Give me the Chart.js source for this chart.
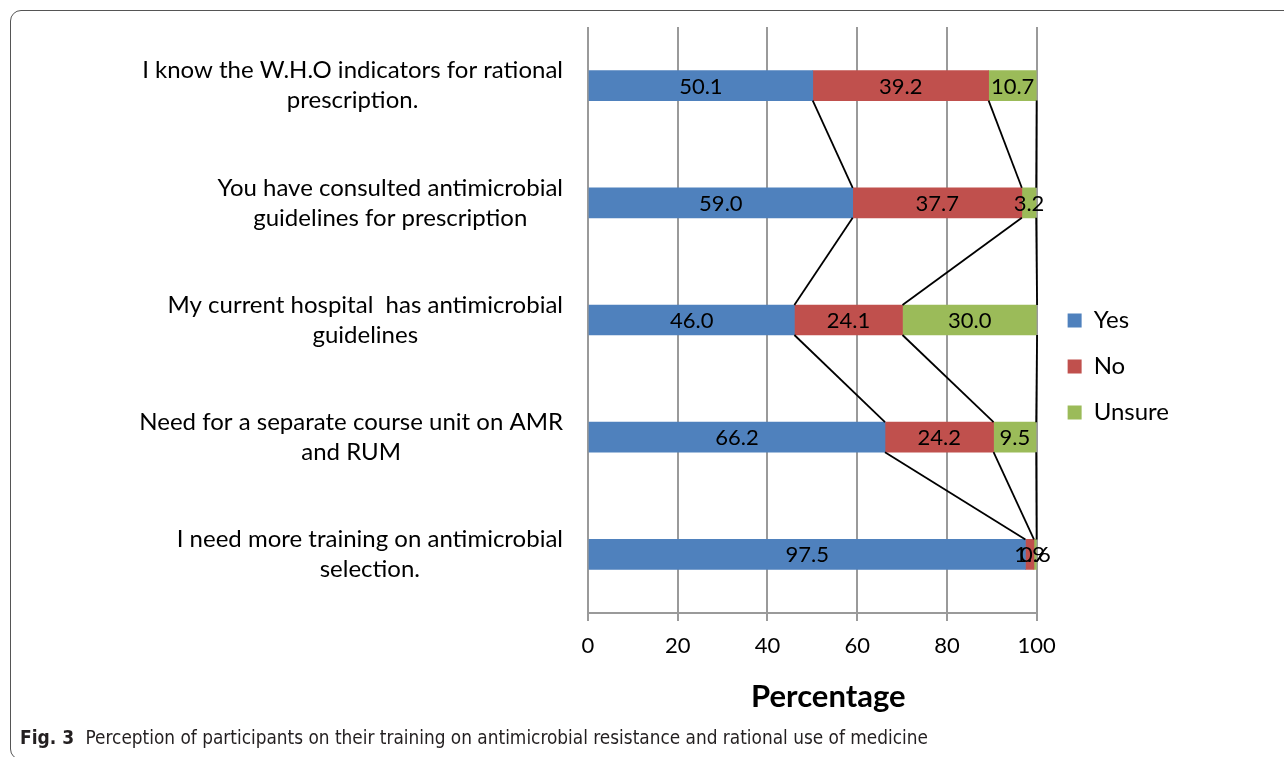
<!DOCTYPE html>
<html>
<head>
<meta charset="utf-8">
<script src="https://cdn.jsdelivr.net/npm/chart.js@4/dist/chart.umd.min.js"></script>
<style>
  html, body { margin: 0; padding: 0; background: #fff; overflow: hidden; }
  body { width: 1284px; height: 757px; position: relative; }
  #frame {
    position: absolute; left: 10px; top: 10px; width: 1320px; height: 750px;
    border: 1.5px solid #555; border-radius: 11px; box-sizing: border-box;
  }
  #wrap { position: absolute; left: 0; top: 0; width: 1284px; height: 732px; }
  #caption {
    position: absolute; left: 20px; top: 726px; font-size: 19px; color: #231f20;
    font-family: "Liberation Sans Narrow", "DejaVu Sans Condensed", "Noto Sans", sans-serif;
    white-space: nowrap;
  }
  #caption b { margin-right: 6px; }
  #caption span { font-size: 18.85px; }
</style>
</head>
<body>
<div id="frame"></div>
<div id="wrap"><canvas id="chart" width="1284" height="732"></canvas></div>
<div id="caption"><b>Fig. 3</b> <span>Perception of participants on their training on antimicrobial resistance and rational use of medicine</span></div>
<script>
///////////////////////////////
// data
///////////////////////////////
const categories = [
    ['I know the W.H.O indicators for rational', 'prescription.'],
    ['You have consulted antimicrobial', 'guidelines for prescription'],
    ['My current hospital  has antimicrobial', 'guidelines'],
    ['Need for a separate course unit on AMR', 'and RUM'],
    ['I need more training on antimicrobial', 'selection.']
];
const seriesNames = ['Yes', 'No', 'Unsure'];
const yesValues = [50.1, 59.0, 46.0, 66.2, 97.5];
const noValues = [39.2, 37.7, 24.1, 24.2, 1.9];
const unsureValues = [10.7, 3.2, 30.0, 9.5, 0.6];
const xTicks = [0, 20, 40, 60, 80, 100];
const xTitle = 'Percentage';

const FONT = 'Lato';
const colors = ['#4f81bd', '#c0504d', '#9bbb59'];

///////////////////////////////
// plugins
///////////////////////////////
// the black "series lines" that join segment ends from one bar to the next
const seriesLines = {
    id: 'seriesLines',
    afterDatasetsDraw(chart) {
        const ctx = chart.ctx;
        ctx.save();
        ctx.strokeStyle = '#000';
        ctx.lineWidth = 1.8;
        chart.data.datasets.forEach((ds, k) => {
            const bars = chart.getDatasetMeta(k).data;
            for (let i = 0; i < bars.length - 1; i++) {
                const a = bars[i], b = bars[i + 1];
                ctx.beginPath();
                ctx.moveTo(a.x, a.y + a.height / 2);
                ctx.lineTo(b.x, b.y - b.height / 2);
                ctx.stroke();
            }
        });
        ctx.restore();
    }
};

// value labels in the middle of each segment
const valueLabels = {
    id: 'valueLabels',
    afterDatasetsDraw(chart) {
        const ctx = chart.ctx;
        ctx.save();
        ctx.font = '22px ' + FONT;
        ctx.fillStyle = '#000';
        ctx.textAlign = 'center';
        ctx.textBaseline = 'middle';
        chart.data.datasets.forEach((ds, k) => {
            chart.getDatasetMeta(k).data.forEach((el, i) => {
                ctx.fillText(ds.data[i].toFixed(1), (el.x + el.base) / 2, el.y + 1);
            });
        });
        ctx.restore();
    }
};

// category labels (each block centred on itself, right edge fixed) and axis title
const axisText = {
    id: 'axisText',
    afterDraw(chart) {
        const ctx = chart.ctx;
        const y = chart.scales.y;
        const area = chart.chartArea;
        const right = area.left - 25;
        const lineH = 30;
        ctx.save();
        ctx.font = '24px ' + FONT;
        ctx.fillStyle = '#000';
        ctx.textAlign = 'center';
        ctx.textBaseline = 'middle';
        categories.forEach((lines, i) => {
            const w = Math.max(...lines.map(l => ctx.measureText(l).width));
            const cx = right - w / 2;
            const cy = y.getPixelForTick(i);
            lines.forEach((l, j) => {
                ctx.fillText(l, cx, cy + (j - (lines.length - 1) / 2) * lineH);
            });
        });
        // Excel left "Percentage" a little right of the plot centre
        ctx.font = 'bold 31px ' + FONT;
        ctx.fillText(xTitle, (area.left + area.right) / 2 + 16, area.bottom + 84);
        ctx.restore();
    }
};

// nudge the legend column to where Excel put it
const legendNudge = {
    id: 'legendNudge',
    afterLayout(chart) {
        const lg = chart.legend;
        lg.left += 9; lg.right += 9;
        lg.top -= 13; lg.bottom -= 13;
    }
};

///////////////////////////////
// chart
///////////////////////////////
const ctx = document.getElementById('chart');
new Chart(ctx, {
    type: 'bar',
    data: {
        labels: categories,
        datasets: [
            { label: seriesNames[0], data: yesValues, backgroundColor: colors[0] },
            { label: seriesNames[1], data: noValues, backgroundColor: colors[1] },
            { label: seriesNames[2], data: unsureValues, backgroundColor: colors[2] }
        ]
    },
    options: {
        indexAxis: 'y',
        responsive: false,
        animation: false,
        devicePixelRatio: 1,
        layout: { padding: { top: 27, left: 0, right: 114, bottom: 0 } },
        datasets: { bar: { barThickness: 30, borderWidth: 0 } },
        scales: {
            x: {
                stacked: true,
                min: 0,
                max: 100,
                afterBuildTicks: s => { s.ticks = xTicks.map(v => ({ value: v })); },
                grid: { color: '#9a9a9a', lineWidth: 2, tickLength: 8 },
                border: { color: '#9a9a9a', width: 2 },
                ticks: { font: { family: FONT, size: 22 }, color: '#000', padding: 12, maxRotation: 0 },
                afterFit: s => { s.height = 119; }
            },
            y: {
                stacked: true,
                grid: { display: false },
                border: { display: false },
                ticks: { display: false },
                afterFit: s => { s.width = 588; }
            }
        },
        plugins: {
            legend: {
                position: 'right',
                labels: {
                    font: { family: FONT, size: 24 },
                    color: '#000',
                    boxWidth: 14,
                    boxHeight: 14,
                    padding: 22
                }
            },
            tooltip: { enabled: false }
        }
    },
    plugins: [seriesLines, valueLabels, axisText, legendNudge]
});
</script>
</body>
</html>
